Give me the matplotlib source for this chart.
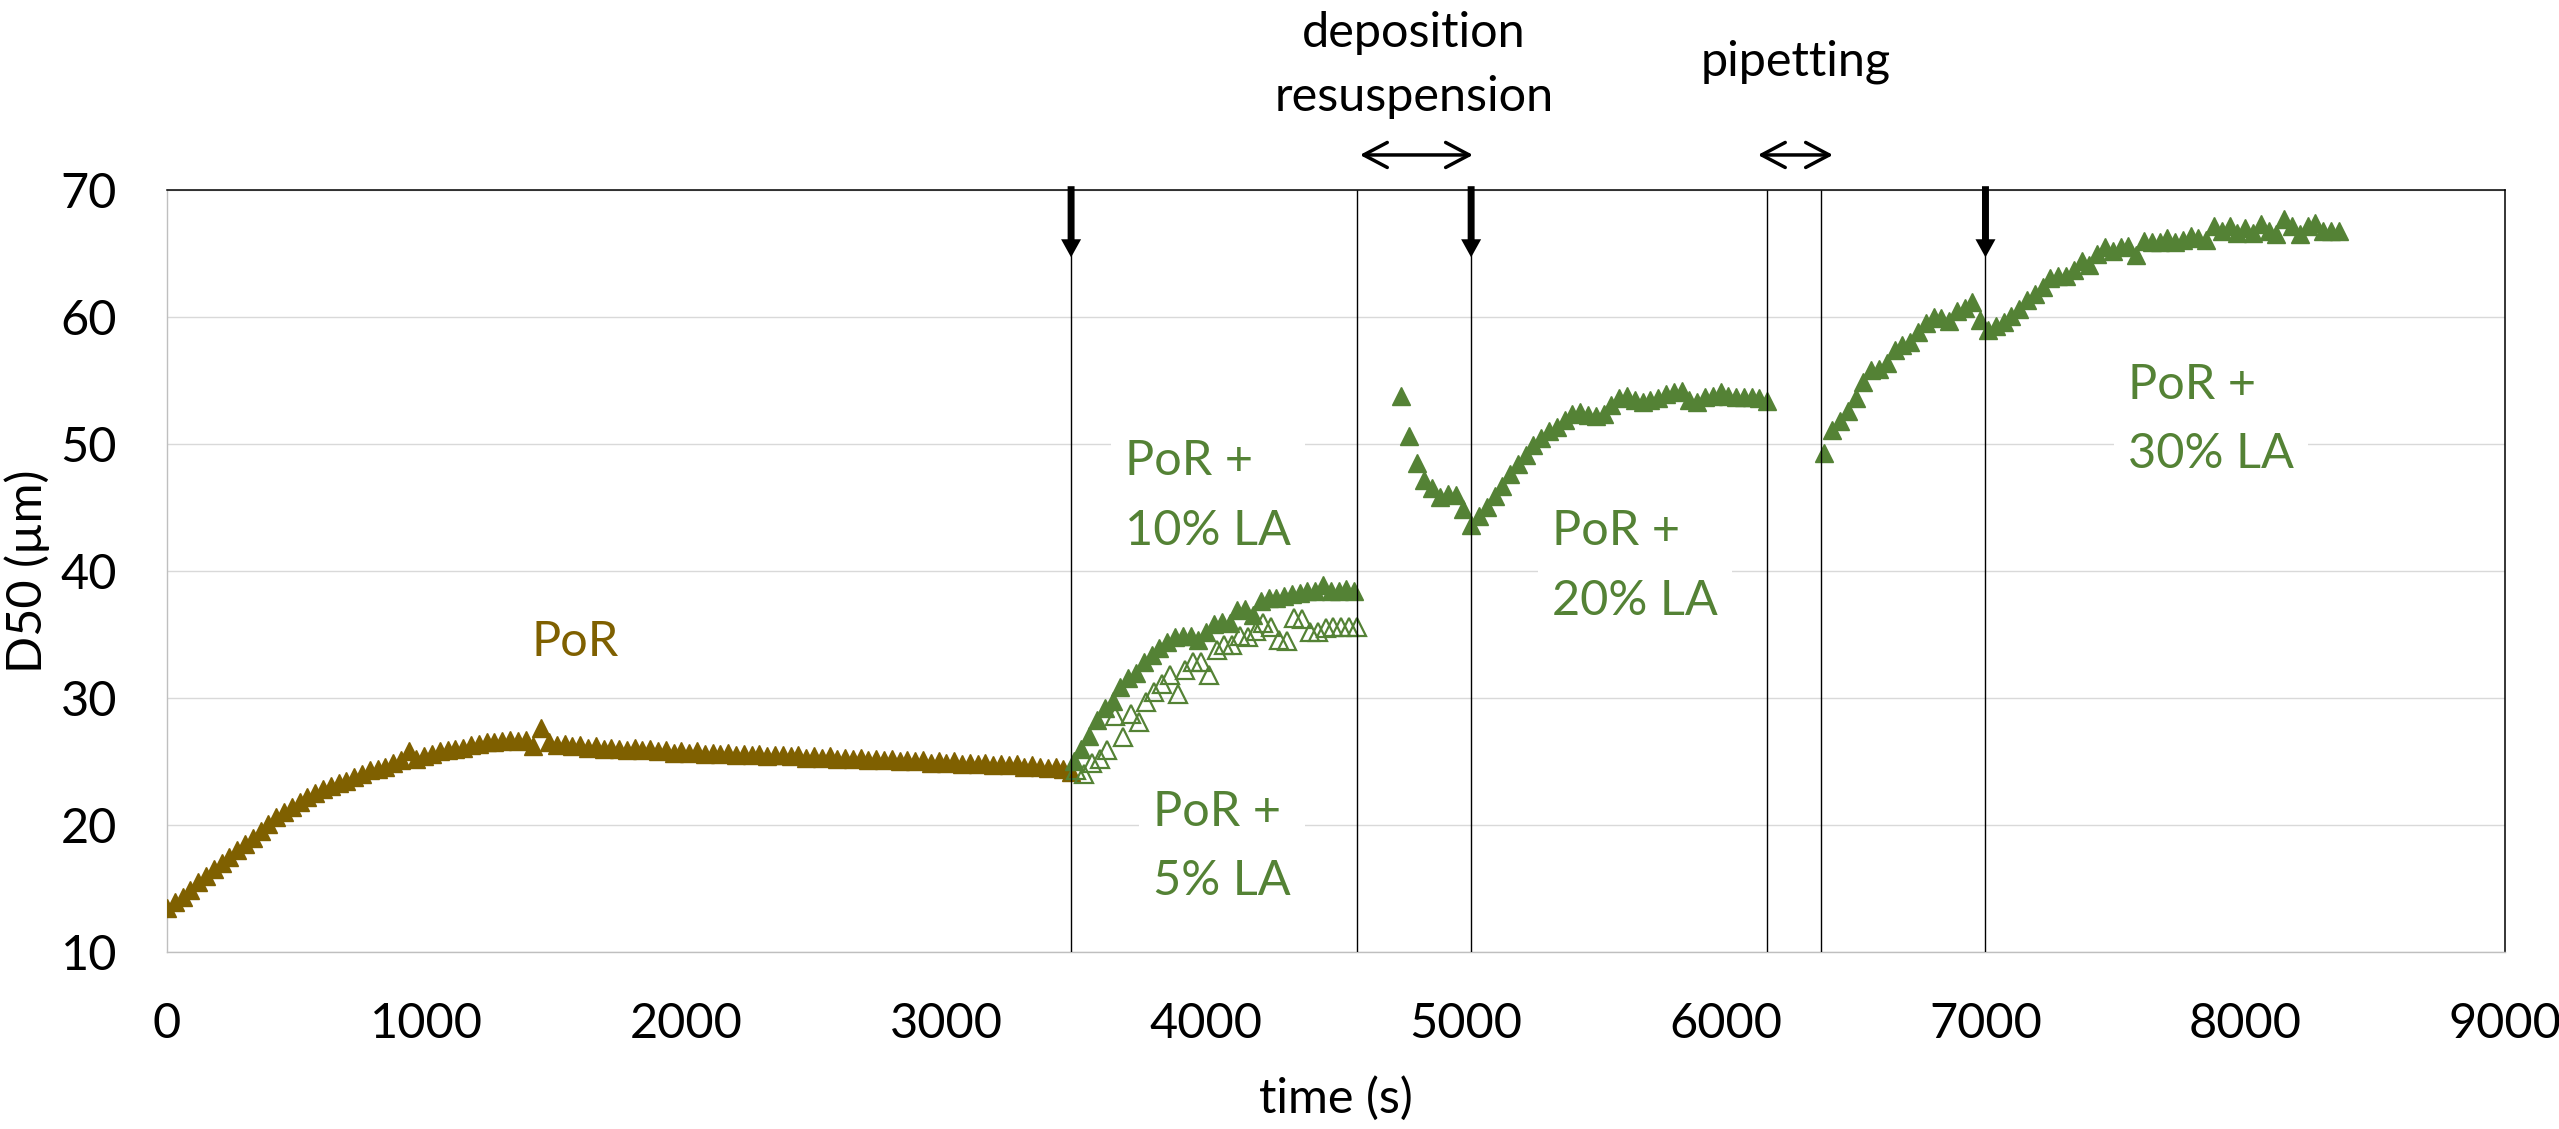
"""
D50 of PoR suspension over time, with stepwise lactic acid (LA) additions
"""

import numpy as np
import matplotlib
matplotlib.use("Agg")
import matplotlib.pyplot as plt

plt.rcParams['font.family'] = ['Lato', 'DejaVu Sans']

BROWN = '#7F6000'
GREEN = '#548235'

# PoR alone, one reading every 30 s from t = 0
por_t0, por_dt = 0, 30
por = [13.5, 13.9, 14.3, 14.9, 15.5, 16.0, 16.5, 17.0, 17.5, 18.0,
       18.5, 19.0, 19.5, 20.1, 20.6, 21.0, 21.4, 21.8, 22.2, 22.5,
       22.8, 23.1, 23.3, 23.5, 23.8, 24.0, 24.3, 24.4, 24.6, 24.9,
       25.1, 25.8, 25.2, 25.4, 25.6, 25.8, 25.9, 26.0, 26.1, 26.3,
       26.4, 26.5, 26.5, 26.6, 26.7, 26.6, 26.7, 26.2, 27.6, 26.5,
       26.3, 26.4, 26.2, 26.3, 26.1, 26.2, 26.0, 26.1, 26.0, 25.9,
       26.1, 25.9, 26.0, 25.8, 25.9, 25.7, 25.8, 25.7, 25.8, 25.6,
       25.7, 25.6, 25.7, 25.5, 25.6, 25.5, 25.6, 25.4, 25.5, 25.5,
       25.4, 25.5, 25.3, 25.4, 25.3, 25.4, 25.2, 25.3, 25.2, 25.3,
       25.1, 25.2, 25.1, 25.2, 25.0, 25.1, 25.0, 25.1, 24.9, 25.0,
       24.9, 25.0, 24.8, 24.9, 24.8, 24.9, 24.7, 24.8, 24.7, 24.8,
       24.6, 24.7, 24.6, 24.5, 24.6, 24.4, 24.2]

# PoR + 5% LA (open symbols)
la5_t0, la5_dt = 3500, 30
la5 = [24.3, 24.0, 24.9, 25.2, 25.9, 28.6, 26.9, 28.7, 28.1, 29.7,
       30.5, 31.1, 31.8, 30.3, 32.2, 32.8, 32.8, 31.8, 33.8, 34.2,
       34.2, 34.9, 34.8, 35.3, 35.9, 35.6, 34.6, 34.5, 36.3, 36.2,
       35.2, 35.2, 35.5, 35.6, 35.6, 35.6, 35.6]

# PoR + 10% LA
la10_t0, la10_dt = 3490, 30
la10 = [25.0, 26.0, 27.0, 28.3, 29.2, 29.8, 30.9, 31.6, 32.0, 32.8,
        33.4, 33.9, 34.4, 34.8, 34.9, 34.9, 34.6, 35.2, 35.8, 36.0,
        35.9, 36.9, 37.0, 36.5, 37.6, 37.9, 37.9, 38.0, 38.2, 38.3,
        38.4, 38.4, 38.9, 38.4, 38.4, 38.6, 38.4]

# PoR + 20% LA
la20_t0, la20_dt = 4750, 30
la20 = [53.8, 50.6, 48.5, 47.2, 46.5, 45.8, 46.1, 46.0, 44.9, 43.6,
        44.3, 45.0, 45.9, 46.7, 47.6, 48.4, 49.1, 49.9, 50.5, 51.0,
        51.3, 51.9, 52.4, 52.5, 52.3, 52.2, 52.4, 53.1, 53.6, 53.8,
        53.5, 53.3, 53.5, 53.6, 53.9, 54.1, 54.2, 53.5, 53.3, 53.7,
        53.8, 54.1, 53.8, 53.7, 53.7, 53.7, 53.6, 53.4]

# PoR + 30% LA
la30_t0, la30_dt = 6380, 30
la30 = [49.3, 51.1, 51.8, 52.6, 53.6, 54.9, 55.8, 55.9, 56.4, 57.4,
        57.8, 58.0, 58.8, 59.5, 60.0, 59.9, 59.7, 60.5, 60.7, 61.2,
        59.8, 59.0, 59.3, 59.6, 60.1, 60.6, 61.3, 61.8, 62.4, 63.1,
        63.2, 63.2, 63.7, 64.4, 64.1, 65.0, 65.5, 65.2, 65.5, 65.6,
        64.9, 66.0, 65.9, 65.9, 66.2, 65.9, 66.1, 66.4, 66.2, 66.1,
        67.2, 66.8, 67.2, 66.6, 67.0, 66.6, 67.3, 66.8, 66.5, 67.7,
        67.2, 66.5, 67.2, 67.4, 66.8, 66.8, 66.8]

# event markers (s)
event_lines = [3480, 4580, 5020, 6160, 6365, 7000]
addition_times = [3480, 5020, 7000]
deposition_span = (4592, 5027)
pipetting_span = (6124, 6413)

xticks = list(range(0, 9001, 1000))
yticks = list(range(10, 71, 10))


def times(t0, dt, vals):
    return t0 + dt * np.arange(len(vals))


fig = plt.figure(figsize=(25.59, 11.29), dpi=100)
ax = fig.add_axes([0.0653, 0.1568, 0.9136, 0.6749])

ms = 13
ax.plot(times(por_t0, por_dt, por), por, ls='none', marker='^', ms=ms,
        color=BROWN, mec=BROWN, zorder=3)
ax.plot(times(la5_t0, la5_dt, la5), la5, ls='none', marker='^', ms=ms,
        mfc='none', mec=GREEN, mew=1.6, zorder=3)
ax.plot(times(la10_t0, la10_dt, la10), la10, ls='none', marker='^', ms=ms,
        color=GREEN, zorder=3)
ax.plot(times(la20_t0, la20_dt, la20), la20, ls='none', marker='^', ms=ms,
        color=GREEN, zorder=3)
ax.plot(times(la30_t0, la30_dt, la30), la30, ls='none', marker='^', ms=ms,
        color=GREEN, zorder=3)

ax.set_xlim(0, 9000)
ax.set_ylim(10, 70)
ax.set_xticks(xticks)
ax.set_yticks(yticks)
ax.tick_params(length=0, labelsize=35, pad=36)
ax.grid(axis='y', color='#D9D9D9', lw=1.0)
ax.set_axisbelow(True)
for side in ['left', 'bottom']:
    ax.spines[side].set_color('#BFBFBF')
    ax.spines[side].set_linewidth(1.0)
for side in ['top', 'right']:
    ax.spines[side].set_color('black')
    ax.spines[side].set_linewidth(1.1)

# event lines and addition arrows
ax.vlines(event_lines, 10, 70, colors='black', lw=1.0, zorder=4)
for t in addition_times:
    ax.annotate('', xy=(t, 64.7), xytext=(t, 70.3),
                arrowprops=dict(arrowstyle='simple,head_length=0.65,head_width=0.72,tail_width=0.25',
                                mutation_scale=20, fc='black', ec='black', lw=0,
                                shrinkA=0, shrinkB=0),
                annotation_clip=False, zorder=5)

for span in [deposition_span, pipetting_span]:
    ax.annotate('', xy=(span[1], 72.76), xytext=(span[0], 72.76),
                arrowprops=dict(arrowstyle='<->,head_length=0.85,head_width=0.45',
                                mutation_scale=20, lw=2.5, color='black',
                                shrinkA=0, shrinkB=0),
                annotation_clip=False)

ax.text(4800, 81.3, 'deposition', ha='center', va='baseline', fontsize=35, clip_on=False)
ax.text(4800, 76.2, 'resuspension', ha='center', va='baseline', fontsize=35, clip_on=False)
ax.text(6270, 79.0, 'pipetting', ha='center', va='baseline', fontsize=35, clip_on=False)

# series labels
box = dict(facecolor='white', edgecolor='none', pad=10)
ax.text(1570, 34.4, 'PoR', color=BROWN, fontsize=35, ha='center', va='center')
ax.text(3686, 45.9, 'PoR +\n10% LA', color=GREEN, fontsize=35, ha='left', va='center',
        linespacing=1.7, bbox=box, zorder=2)
ax.text(3796, 18.3, 'PoR +\n5% LA', color=GREEN, fontsize=35, ha='left', va='center',
        linespacing=1.7, bbox=box, zorder=2)
ax.text(5331, 40.4, 'PoR +\n20% LA', color=GREEN, fontsize=35, ha='left', va='center',
        linespacing=1.7, bbox=box, zorder=2)
ax.text(7548, 51.9, 'PoR +\n30% LA', color=GREEN, fontsize=35, ha='left', va='center',
        linespacing=1.7, bbox=box, zorder=2)

fig.text(0.0106, 0.494, 'D50 (µm)', rotation=90, ha='center', va='center', fontsize=35)
fig.text(0.522, 0.0266, 'time (s)', ha='center', va='center', fontsize=35)

fig.savefig('out.png', dpi=100)
